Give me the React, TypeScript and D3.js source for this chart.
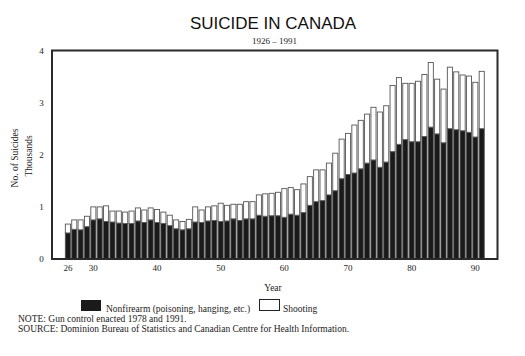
import React from "react";
import * as d3 from "d3";

const years: number[] = d3.range(1926, 1992);

// Thousands of suicides by nonfirearm means (black segment)
const nonfirearm: number[] = [
  0.50, 0.57, 0.56, 0.62, 0.75, 0.77, 0.72, 0.71, 0.69, 0.68,
  0.68, 0.73, 0.70, 0.75, 0.70, 0.68, 0.64, 0.58, 0.56, 0.58,
  0.71, 0.70, 0.73, 0.74, 0.72, 0.73, 0.77, 0.74, 0.77, 0.77,
  0.84, 0.82, 0.83, 0.83, 0.80, 0.86, 0.84, 0.89, 1.03, 1.10,
  1.12, 1.23, 1.31, 1.54, 1.62, 1.65, 1.73, 1.84, 1.90, 1.76,
  1.86, 2.06, 2.20, 2.29, 2.25, 2.25, 2.35, 2.53, 2.40, 2.23,
  2.50, 2.48, 2.46, 2.43, 2.34, 2.50,
];

// Thousands of suicides by shooting (white segment)
const shooting: number[] = [
  0.17, 0.18, 0.19, 0.20, 0.25, 0.23, 0.30, 0.21, 0.23, 0.22,
  0.24, 0.25, 0.24, 0.23, 0.25, 0.22, 0.20, 0.17, 0.16, 0.18,
  0.29, 0.24, 0.27, 0.28, 0.35, 0.30, 0.28, 0.31, 0.33, 0.33,
  0.39, 0.43, 0.43, 0.45, 0.55, 0.51, 0.49, 0.55, 0.55, 0.61,
  0.59, 0.61, 0.72, 0.76, 0.79, 0.92, 0.93, 0.94, 1.01, 1.06,
  1.08, 1.27, 1.28, 1.08, 1.12, 1.16, 1.19, 1.24, 1.05, 1.03,
  1.18, 1.11, 1.07, 1.08, 1.05, 1.10,
];

const xTickYears: number[] = [1926, 1930, 1940, 1950, 1960, 1970, 1980, 1990];
const yTicks: number[] = [0, 1, 2, 3, 4];

const title = "SUICIDE IN CANADA";
const subtitle = "1926 – 1991";
const legendLabels: string[] = ["Nonfirearm (poisoning, hanging, etc.)", "Shooting"];
const noteText = "NOTE: Gun control enacted 1978 and 1991.";
const sourceText = "SOURCE: Dominion Bureau of Statistics and Canadian Centre for Health Information.";

const SERIF = "'Liberation Serif', 'DejaVu Serif', serif";
const SANS = "'Liberation Sans', Arial, sans-serif";

export default function App() {
  const W = 525, H = 356;
  const frame = { left: 52, top: 50.5, right: 497.5, bottom: 259 };

  const x = d3.scaleBand<number>()
    .domain(years)
    .range([64.7, 484.9])
    .paddingInner(0.2)
    .paddingOuter(0.1);

  const y = d3.scaleLinear().domain([0, 4]).range([frame.bottom, frame.top]);

  const rows = years.map((yr, i) => ({ year: yr, nonfirearm: nonfirearm[i], shooting: shooting[i] }));
  const stack = d3.stack<any>().keys(["nonfirearm", "shooting"]);
  const series = stack(rows);
  const fills = ["#1a1a1a", "#ffffff"];

  return (
    <div style={{ margin: -8, width: W, height: H, background: "#fff" }}>
      <svg width={W} height={H} style={{ display: "block" }}>
        <rect x={0} y={0} width={W} height={H} fill="#fff" />
        <text x={273} y={29} textAnchor="middle" fontFamily={SANS} fontSize={17} fill="#111">{title}</text>
        <text x={274.5} y={44} textAnchor="middle" fontFamily={SERIF} fontSize={9} fill="#222">{subtitle}</text>

        {/* bars */}
        {series.map((s, si) => (
          <g key={si}>
            {s.map((d: any, i: number) => (
              <rect
                key={i}
                x={x(years[i])!}
                y={y(d[1])}
                width={x.bandwidth()}
                height={y(d[0]) - y(d[1])}
                fill={fills[si]}
                stroke="#555"
                strokeWidth={0.9}
              />
            ))}
          </g>
        ))}

        {/* frame */}
        <rect
          x={frame.left}
          y={frame.top}
          width={frame.right - frame.left}
          height={frame.bottom - frame.top}
          fill="none"
          stroke="#2a2a2a"
          strokeWidth={2}
        />

        {/* y tick labels */}
        {yTicks.map((t) => (
          <text key={t} x={41.5} y={y(t) + 3} textAnchor="middle" fontFamily={SERIF} fontSize={9} fill="#222">{t}</text>
        ))}

        {/* x tick labels */}
        {xTickYears.map((yr) => (
          <text key={yr} x={x(yr)! + x.bandwidth() / 2} y={271} textAnchor="middle" fontFamily={SERIF} fontSize={9} fill="#222">
            {String(yr % 100)}
          </text>
        ))}

        {/* y axis title */}
        <text transform="translate(18,158) rotate(-90)" textAnchor="middle" fontFamily={SERIF} fontSize={9.5} fill="#222">No. of Suicides</text>
        <text transform="translate(32,156) rotate(-90)" textAnchor="middle" fontFamily={SERIF} fontSize={9.5} fill="#222">Thousands</text>

        {/* x axis title */}
        <text x={273} y={291} textAnchor="middle" fontFamily={SERIF} fontSize={9.5} fill="#222">Year</text>

        {/* legend */}
        <rect x={81} y={300} width={20} height={11} fill="#1a1a1a" />
        <text x={106} y={312} fontFamily={SERIF} fontSize={9.5} fill="#222">{legendLabels[0]}</text>
        <rect x={259.5} y={299.5} width={20} height={11} fill="#fff" stroke="#222" strokeWidth={1} />
        <text x={283} y={312} fontFamily={SERIF} fontSize={9.5} fill="#222">{legendLabels[1]}</text>

        {/* notes */}
        <text x={18} y={321.5} fontFamily={SERIF} fontSize={9.5} fill="#222">{noteText}</text>
        <text x={18} y={332} fontFamily={SERIF} fontSize={9.5} fill="#222">{sourceText}</text>
      </svg>
    </div>
  );
}
